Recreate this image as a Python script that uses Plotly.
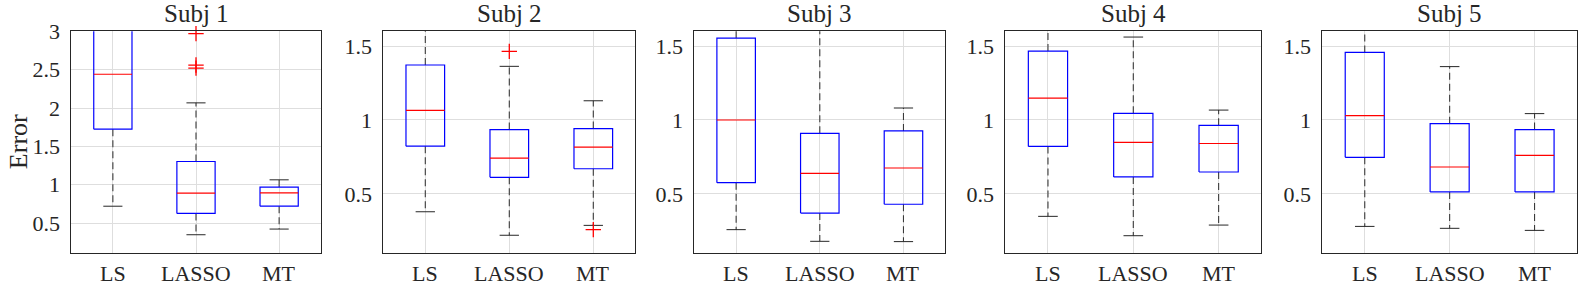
import plotly.graph_objects as go

# ---------------- data ----------------
methods = ["LS", "LASSO", "MT"]
subjects = ["Subj 1", "Subj 2", "Subj 3", "Subj 4", "Subj 5"]

q1_vals = [[1.724, 0.626, 0.721],
           [0.823, 0.612, 0.670],
           [0.576, 0.370, 0.430],
           [0.821, 0.615, 0.648],
           [0.747, 0.513, 0.513]]
median_vals = [[2.44, 0.891, 0.895],
               [1.065, 0.742, 0.816],
               [1.000, 0.639, 0.675],
               [1.148, 0.848, 0.841],
               [1.029, 0.682, 0.760]]
q3_vals = [[3.45, 1.303, 0.969],
           [1.372, 0.935, 0.942],
           [1.554, 0.910, 0.926],
           [1.466, 1.045, 0.964],
           [1.457, 0.975, 0.935]]
lower_whisker = [[0.720, 0.348, 0.422],
                 [0.379, 0.220, 0.287],
                 [0.258, 0.179, 0.177],
                 [0.348, 0.217, 0.289],
                 [0.280, 0.267, 0.253]]
upper_whisker = [[4.60, 2.067, 1.064],
                 [1.72, 1.363, 1.130],
                 [1.95, 1.85, 1.081],
                 [1.75, 1.561, 1.067],
                 [1.70, 1.361, 1.043]]
outliers = [[[], [2.97, 2.56, 2.52], []],
            [[], [1.464], [0.258]],
            [[], [], []],
            [[], [], []],
            [[], [], []]]

y_ranges = [[0.11, 3.0], [0.1, 1.6], [0.1, 1.6], [0.1, 1.6], [0.1, 1.6]]
y_ticks = [[0.5, 1, 1.5, 2, 2.5, 3], [0.5, 1, 1.5], [0.5, 1, 1.5], [0.5, 1, 1.5], [0.5, 1, 1.5]]
y_ticktext = [["0.5", "1", "1.5", "2", "2.5", "3"], ["0.5", "1", "1.5"], ["0.5", "1", "1.5"],
              ["0.5", "1", "1.5"], ["0.5", "1", "1.5"]]

# ---------------- layout / style ----------------
W, H = 1593, 285
FONT = "Liberation Serif"
x_px = [(71.3, 320.7), (383.3, 635.3), (694.3, 945.3), (1005.3, 1261.3), (1322.3, 1577.0)]
y_top_px, y_bot_px = 31.3, 253.0
BOX_HALF = 0.23
CAP_HALF = 0.115
BLUE, RED, BLACK = "#0000FF", "#FF0000", "#262626"

fig = go.Figure()
for s in range(len(subjects)):
    xa = "x" if s == 0 else f"x{s+1}"
    ya = "y" if s == 0 else f"y{s+1}"
    for m in range(len(methods)):
        pos = m + 1
        q1, md, q3 = q1_vals[s][m], median_vals[s][m], q3_vals[s][m]
        lo, hi = lower_whisker[s][m], upper_whisker[s][m]
        # dashed whiskers
        fig.add_trace(go.Scatter(x=[pos, pos, None, pos, pos], y=[q3, hi, None, q1, lo],
                                 mode="lines", line=dict(color="#3a3a3a", width=1.1, dash="7px,4px"),
                                 xaxis=xa, yaxis=ya, showlegend=False, hoverinfo="skip"))
        # whisker caps
        fig.add_trace(go.Scatter(x=[pos - CAP_HALF, pos + CAP_HALF, None, pos - CAP_HALF, pos + CAP_HALF],
                                 y=[hi, hi, None, lo, lo],
                                 mode="lines", line=dict(color=BLACK, width=1),
                                 xaxis=xa, yaxis=ya, showlegend=False, hoverinfo="skip"))
        # box
        fig.add_trace(go.Scatter(x=[pos - BOX_HALF, pos + BOX_HALF, pos + BOX_HALF, pos - BOX_HALF, pos - BOX_HALF],
                                 y=[q1, q1, q3, q3, q1],
                                 mode="lines", line=dict(color=BLUE, width=1.2),
                                 xaxis=xa, yaxis=ya, showlegend=False, hoverinfo="skip"))
        # median
        fig.add_trace(go.Scatter(x=[pos - BOX_HALF, pos + BOX_HALF], y=[md, md],
                                 mode="lines", line=dict(color=RED, width=1.2),
                                 xaxis=xa, yaxis=ya, showlegend=False, hoverinfo="skip"))
        # outliers
        if outliers[s][m]:
            fig.add_trace(go.Scatter(x=[pos] * len(outliers[s][m]), y=outliers[s][m],
                                     mode="markers",
                                     marker=dict(symbol="cross-thin", size=11, line=dict(color=RED, width=1.3)),
                                     xaxis=xa, yaxis=ya, showlegend=False, hoverinfo="skip", cliponaxis=False))

layout = dict(width=W, height=H, margin=dict(l=0, r=0, t=0, b=0, pad=0), autosize=False,
              paper_bgcolor="white", plot_bgcolor="white", showlegend=False,
              font=dict(family=FONT, color="#262626", size=22))
y_dom = [1 - y_bot_px / H, 1 - y_top_px / H]
annotations = []
for s in range(len(subjects)):
    xk = "xaxis" if s == 0 else f"xaxis{s+1}"
    yk = "yaxis" if s == 0 else f"yaxis{s+1}"
    xa = "x" if s == 0 else f"x{s+1}"
    ya = "y" if s == 0 else f"y{s+1}"
    x0, x1 = x_px[s]
    layout[xk] = dict(domain=[x0 / W, x1 / W], anchor=ya, range=[0.5, 3.5], automargin=False,
                      tickvals=[1, 2, 3], showticklabels=False,
                      showgrid=True, gridcolor="#dedede", gridwidth=1, zeroline=False,
                      showline=True, mirror=True, linecolor=BLACK, linewidth=1, ticks="")
    layout[yk] = dict(domain=y_dom, anchor=xa, range=y_ranges[s], automargin=False,
                      tickvals=y_ticks[s], ticktext=y_ticktext[s],
                      showgrid=True, gridcolor="#dedede", gridwidth=1, zeroline=False,
                      showline=True, mirror=True, linecolor=BLACK, linewidth=1,
                      ticks="", ticklabelstandoff=6,
                      tickfont=dict(family=FONT, size=22, color="#262626"))
    for m, name in enumerate(methods):
        annotations.append(dict(text=name, xref=xa, yref="paper", x=m + 1, y=y_dom[0],
                                xanchor="center", yanchor="top", yshift=-6, showarrow=False,
                                font=dict(family=FONT, size=22, color="#262626")))
    annotations.append(dict(text=subjects[s], xref="paper", yref="paper",
                            x=(x0 + x1) / 2 / W, y=y_dom[1], xanchor="center", yanchor="bottom",
                            yshift=2, showarrow=False,
                            font=dict(family=FONT, size=25, color="#262626")))
annotations.append(dict(text="Error", xref="paper", yref="paper", x=18 / W, y=(y_dom[0] + y_dom[1]) / 2,
                        xanchor="center", yanchor="middle", textangle=-90, showarrow=False,
                        font=dict(family=FONT, size=26, color="#262626")))
layout["annotations"] = annotations
fig.update_layout(**layout)
fig.write_html("out.html",
               post_script="document.body.style.margin='0';document.body.style.overflow='hidden';",
               config={"displayModeBar": False})
